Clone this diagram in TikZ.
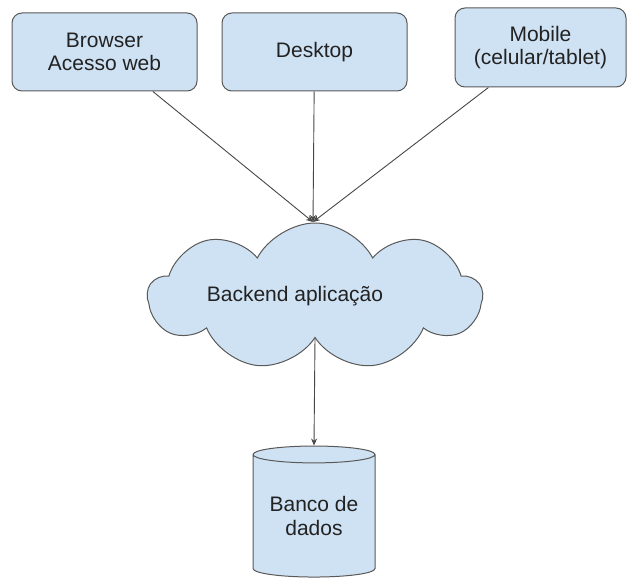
\documentclass[tikz,border=0pt]{standalone}
\usepackage{fontspec}
\setmainfont{Liberation Sans}
\usetikzlibrary{shapes.symbols,shapes.geometric,arrows.meta}
\definecolor{boxfill}{HTML}{CFE2F3}
\definecolor{edge}{HTML}{595959}
\definecolor{ink}{HTML}{222222}
\tikzset{
  box/.style={draw=edge, fill=boxfill, rounded corners=10pt, line width=1pt,
    align=center, text=ink, inner sep=0pt},
  link/.style={draw=edge!80!black, line width=0.9pt, -{Stealth[length=7pt,width=6pt]}}
}
\begin{document}
\begin{tikzpicture}[x=1pt, y=-1pt, font=\fontsize{21}{23.5}\selectfont]
            \useasboundingbox (0,0) rectangle (629,583);
            \node[box, minimum width=185pt, minimum height=78pt] (Br) at (104.5, 52) {Browser\\Acesso web};
            \node[box, minimum width=185pt, minimum height=78pt] (Dk) at (314.5, 52) {Desktop};
            \node[box, minimum width=171pt, minimum height=79pt] (Mob) at (540.5, 47.5) {Mobile\\(celular/tablet)};
            \node[cloud, cloud puffs=9, cloud puff arc=125, draw=edge, fill=boxfill, line width=1pt,
                  minimum width=334pt, minimum height=147pt, inner sep=0pt] (Back) at (315, 296.5) {};
            \node[text=ink] (BackTxt) at (295, 296) {Backend aplicação};
            \node[cylinder, shape border rotate=90, aspect=0.19, draw=edge, fill=boxfill, line width=1pt,
                  minimum width=122pt, minimum height=131pt, align=center, text=ink, inner sep=0pt] (BD) at (314, 516) {Banco de\\dados};
            \coordinate (topo) at (313, 222);

            \draw[link] (Br) -- (topo);
            \draw[link] (Dk) -- (topo);
            \draw[link] (Mob) -- (topo);
            \draw[link] (Back.south) -- (BD.north);
        \end{tikzpicture}
\end{document}
